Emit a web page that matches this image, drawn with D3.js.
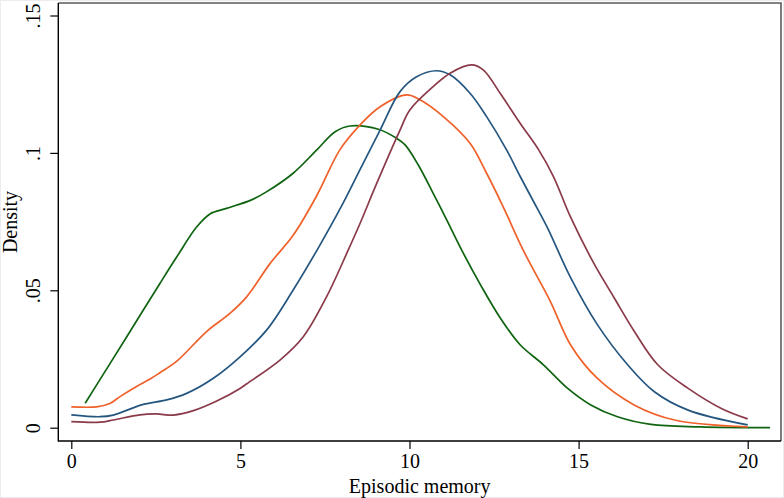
<!DOCTYPE html>
<html>
<head>
<meta charset="utf-8">
<script src="https://cdn.jsdelivr.net/npm/d3@7"></script>
<style>
  html, body { margin: 0; padding: 0; background: #fff; }
  svg { display: block; }
  text { font-family: "Liberation Serif", "Times New Roman", serif; fill: #000; }
</style>
</head>
<body>
<svg id="chart" width="784" height="498"></svg>
<script>
// ---- Data ----
const xTicks = [0, 5, 10, 15, 20];
const yTicks = [0, 0.05, 0.1, 0.15];
const yTickLabels = ["0", ".05", ".1", ".15"];
const xTitle = "Episodic memory";
const yTitle = "Density";

const greenX = [0.41, 1.0, 1.64, 2.62, 3.12, 3.71, 4.10, 4.59, 5.33, 5.78, 6.56, 7.26, 7.80, 8.24, 9.08, 9.62, 9.87, 10.26, 10.70, 11.10, 11.54, 12.1, 12.68, 13.27, 13.96, 14.66, 15.36, 16.15, 17.14, 18.6, 20.66];
const greenY = [0.0089, 0.0205, 0.0331, 0.0525, 0.0622, 0.0731, 0.0778, 0.0798, 0.0829, 0.0859, 0.0926, 0.1011, 0.1077, 0.1098, 0.1086, 0.1053, 0.1029, 0.0956, 0.0853, 0.0756, 0.0647, 0.0520, 0.0400, 0.0302, 0.0229, 0.0145, 0.0083, 0.0040, 0.0012, 0.0003, 0.0000];

const orangeX = [0, 0.75, 1.14, 1.44, 1.93, 2.33, 2.62, 3.12, 4.0, 4.69, 5.19, 5.88, 6.56, 7.26, 7.94, 8.54, 9.13, 9.92, 10.31, 11.0, 11.79, 12.28, 12.77, 13.37, 14.16, 14.76, 15.55, 16.64, 17.84, 20];
const orangeY = [0.0076, 0.0076, 0.0088, 0.0113, 0.0150, 0.0177, 0.0200, 0.0242, 0.0350, 0.0416, 0.0477, 0.0598, 0.0700, 0.0845, 0.1011, 0.1102, 0.1168, 0.1211, 0.1193, 0.1132, 0.1035, 0.0926, 0.0804, 0.0644, 0.0461, 0.0302, 0.0180, 0.0083, 0.0028, 0.0003];

const blueX = [0, 0.85, 1.24, 2.08, 2.82, 3.41, 4.2, 4.99, 5.78, 6.56, 7.33, 8.04, 8.54, 9.13, 9.72, 10.21, 10.80, 11.2, 11.79, 12.28, 12.87, 13.27, 13.66, 14.07, 14.76, 15.55, 16.45, 17.24, 18.24, 20];
const blueY = [0.0047, 0.0040, 0.0046, 0.0083, 0.0101, 0.0125, 0.0180, 0.0258, 0.0356, 0.0501, 0.0660, 0.0818, 0.0940, 0.1083, 0.1223, 0.1277, 0.1299, 0.1284, 0.1217, 0.1132, 0.1011, 0.0915, 0.0825, 0.0730, 0.0547, 0.0376, 0.0229, 0.0131, 0.0064, 0.0010];

const maroonX = [0, 0.85, 1.24, 2.03, 2.52, 3.02, 3.61, 4.3, 4.99, 5.19, 6.17, 6.86, 7.55, 8.19, 8.54, 9.03, 9.72, 10.01, 10.7, 11.2, 11.84, 12.18, 12.68, 13.27, 13.82, 14.26, 14.76, 15.46, 16.05, 16.64, 17.34, 18.24, 19.22, 20];
const maroonY = [0.0022, 0.0020, 0.0028, 0.0047, 0.0050, 0.0046, 0.0062, 0.0097, 0.0143, 0.0160, 0.0246, 0.0331, 0.0477, 0.0647, 0.0744, 0.0889, 0.1083, 0.1156, 0.1241, 0.1290, 0.1320, 0.1302, 0.1217, 0.1108, 0.1011, 0.0913, 0.0767, 0.0596, 0.0473, 0.0352, 0.0229, 0.0143, 0.0070, 0.0032];

const seriesNames = ["green", "orange", "blue", "maroon"];
const seriesColors = ["#0f6410", "#f0612a", "#25567f", "#8a3a48"];

// ---- Layout ----
const svg = d3.select("#chart");
const W = 784, H = 498;
const frame = { left: 58.3, top: 3, right: 781, bottom: 441 };

const x = d3.scaleLinear().domain([0, 20]).range([71.3, 747.7]);
const y = d3.scaleLinear().domain([0, 0.15]).range([427.7, 15.5]);

// faint outer border of graph region
svg.append("rect")
  .attr("x", 0.5).attr("y", 0.5).attr("width", W - 1).attr("height", H - 1)
  .attr("fill", "#fff").attr("stroke", "#ececf0").attr("stroke-width", 1);

// plot region top/right outline (grey)
svg.append("path")
  .attr("d", `M${frame.left},${frame.top}H${frame.right}V${frame.bottom}`)
  .attr("fill", "none").attr("stroke", "#5a5a5a").attr("stroke-width", 1.6);

// ---- Series ----
const line = d3.line()
  .x(d => x(d[0]))
  .y(d => y(d[1]))
  .curve(d3.curveCatmullRom.alpha(0.5));

const allSeries = [
  d3.zip(greenX, greenY),
  d3.zip(orangeX, orangeY),
  d3.zip(blueX, blueY),
  d3.zip(maroonX, maroonY)
];

svg.append("g").selectAll("path")
  .data(allSeries)
  .join("path")
  .attr("class", (d, i) => "series " + seriesNames[i])
  .attr("d", line)
  .attr("fill", "none")
  .attr("stroke", (d, i) => seriesColors[i])
  .attr("stroke-width", 1.7)
  .attr("stroke-linejoin", "round");

// ---- Axes ----
const xAxis = d3.axisBottom(x)
  .tickValues(xTicks)
  .tickSize(8)
  .tickPadding(5)
  .tickFormat(d3.format("d"));

const gx = svg.append("g")
  .attr("transform", `translate(0,${frame.bottom})`)
  .call(xAxis);
gx.select(".domain").remove();
gx.selectAll(".tick line").attr("stroke", "#000").attr("stroke-width", 1.2);
gx.selectAll(".tick text")
  .attr("font-size", 20)
  .attr("font-family", "'Liberation Serif', 'Times New Roman', serif")
  .attr("dy", null)
  .attr("y", 27)
  .attr("fill", "#000");

const yAxis = d3.axisLeft(y)
  .tickValues(yTicks)
  .tickSize(8)
  .tickFormat((d, i) => yTickLabels[i]);

const gy = svg.append("g")
  .attr("transform", `translate(${frame.left},0)`)
  .call(yAxis);
gy.select(".domain").remove();
gy.selectAll(".tick line").attr("stroke", "#000").attr("stroke-width", 1.2);
gy.selectAll(".tick text")
  .attr("font-size", 20)
  .attr("font-family", "'Liberation Serif', 'Times New Roman', serif")
  .attr("x", null).attr("dy", null)
  .attr("text-anchor", "middle")
  .attr("transform", "translate(-18,0) rotate(-90)")
  .attr("fill", "#000");

// axis lines (black) left and bottom
svg.append("path")
  .attr("d", `M${frame.left},${frame.top}V${frame.bottom}H${frame.right}`)
  .attr("fill", "none").attr("stroke", "#000").attr("stroke-width", 1.4);

// ---- Titles ----
svg.append("text")
  .attr("x", (frame.left + frame.right) / 2)
  .attr("y", 493)
  .attr("text-anchor", "middle")
  .attr("font-size", 20)
  .text(xTitle);

svg.append("text")
  .attr("transform", `translate(17,${(frame.top + frame.bottom) / 2}) rotate(-90)`)
  .attr("text-anchor", "middle")
  .attr("font-size", 20)
  .text(yTitle);
</script>
</body>
</html>
